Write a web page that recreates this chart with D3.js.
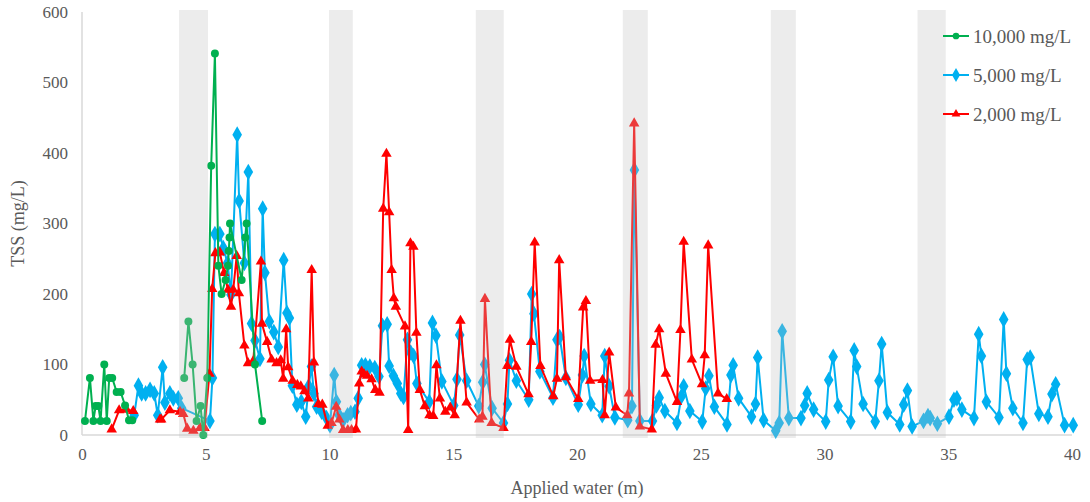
<!DOCTYPE html>
<html>
<head>
<meta charset="utf-8">
<script src="https://cdn.jsdelivr.net/npm/d3@7"></script>
<style>
  html, body { margin: 0; padding: 0; background: #fff; }
  svg { display: block; }
</style>
</head>
<body>
<svg id="chart" width="1090" height="502"></svg>
<script>
// ---- Data ----
const xTicks = [0, 5, 10, 15, 20, 25, 30, 35, 40];
const yTicks = [0, 100, 200, 300, 400, 500, 600];
const seriesNames = ["10,000 mg/L", "5,000 mg/L", "2,000 mg/L"];

// shaded intervals (applied water, m)
const bandStart = [3.92, 9.98, 15.91, 21.85, 27.83, 33.76];
const bandEnd   = [5.09, 10.94, 17.04, 22.86, 28.84, 34.9];

// 10,000 mg/L (null = break in line)
const greenX = [0.12,0.32,0.46,0.55,0.66,0.75,0.9,1.0,1.1,1.22,1.4,1.56,1.74,1.9,2.03,
  null,
  4.13,4.3,4.47,4.63,4.79,4.9,5.06,5.22,5.37,5.51,5.64,5.8,5.9,5.93,5.96,5.98,6.45,6.6,6.65,6.99,7.28];
const greenY = [20,81,20,41,41,20,100,20,81,81,61,61,42,21,21,
  null,
  81,161,100,20,41,0,81,382,541,240,200,220,240,261,280,300,220,280,300,100,20];

// 5,000 mg/L
const blueX = [2.11,2.28,2.41,2.57,2.75,2.92,3.06,3.26,3.35,3.55,3.69,3.89,4.03,
  5.17,5.27,5.37,5.57,5.71,5.88,6.02,6.27,6.35,6.56,6.72,6.85,6.99,7.19,7.3,7.39,7.57,7.75,7.93,
  8.15,8.28,8.38,8.5,8.68,8.86,9.04,9.16,9.27,9.37,9.48,9.68,9.88,10.02,10.19,10.28,10.39,10.55,
  10.73,10.86,11.03,11.16,11.3,11.45,11.63,11.83,12.0,12.14,12.33,12.41,12.58,12.74,12.88,12.99,
  13.15,13.28,13.4,13.53,14.03,14.16,14.3,14.54,15.02,15.15,15.26,15.54,16.03,16.19,16.27,16.57,
  17.03,17.19,17.27,17.55,18.05,18.17,18.26,18.5,19.03,19.19,19.3,19.55,20.05,20.22,20.29,20.56,
  21.02,21.12,21.3,21.53,22.05,22.22,22.32,22.54,23.05,23.21,23.32,23.55,24.04,24.22,24.31,24.56,
  25.06,25.2,25.33,25.55,26.06,26.22,26.31,26.53,27.05,27.21,27.3,27.54,28.03,28.17,28.29,28.56,
  29.05,29.2,29.3,29.56,30.05,30.17,30.35,30.55,31.06,31.2,31.3,31.56,32.05,32.2,32.31,32.54,
  33.04,33.2,33.35,33.54,34.0,34.18,34.27,34.56,35.03,35.23,35.35,35.55,36.04,36.23,36.34,36.54,
  37.05,37.24,37.35,37.61,38.02,38.19,38.31,38.66,39.03,39.19,39.34,39.7,40.05];
const blueY = [28,70,59,59,64,59,28,96,46,59,52,52,38,
  20,81,285,285,265,244,199,426,332,244,373,158,134,108,321,230,161,146,125,
  248,173,166,70,43,47,26,69,97,59,40,33,24,14,85,47,28,21,
  28,31,33,52,99,99,97,95,83,155,157,98,84,73,59,54,
  135,117,112,73,47,159,141,76,42,79,142,77,41,75,100,38,
  17,44,106,77,50,200,172,90,53,135,139,81,43,85,112,44,
  28,112,69,25,21,41,376,20,20,42,53,34,17,55,69,34,
  19,66,84,40,15,85,99,52,26,44,110,21,6,17,147,24,
  24,42,59,36,19,78,111,41,19,120,97,44,19,77,129,32,
  15,43,63,12,20,27,24,16,26,50,52,36,24,143,112,47,
  25,164,87,38,17,107,110,30,26,58,72,14,14];

// 2,000 mg/L
const redX = [1.2,1.5,1.8,2.07,
  null,
  3.15,3.2,3.55,3.96,4.09,4.25,4.5,4.77,4.95,5.15,5.26,5.39,5.57,5.74,5.9,6.02,6.11,6.25,6.34,
  6.56,6.71,6.92,7.23,7.27,7.48,7.66,7.86,8.03,8.13,8.25,8.33,8.51,8.7,8.84,8.99,9.14,9.28,9.37,
  9.55,9.71,9.93,10.08,10.27,10.4,10.55,10.74,10.89,11.07,11.2,11.3,11.4,11.52,11.7,11.85,12.02,
  12.17,12.3,12.41,12.51,12.6,12.68,13.05,13.18,13.27,13.39,13.51,13.65,13.85,14.04,14.19,14.32,
  14.46,14.68,14.88,15.06,15.29,15.54,16.05,16.18,16.28,16.55,17.03,17.18,17.29,17.55,18.04,18.15,
  18.29,18.52,19.04,19.19,19.28,19.55,20.05,20.25,20.36,20.53,21.03,21.12,21.3,21.57,22.03,22.1,
  22.31,22.54,23.02,23.18,23.32,23.59,24.04,24.18,24.31,24.64,25.05,25.16,25.3,25.7,26.05];
const redY = [8,35,36,34,
  null,
  22,22,35,33,30,9,6,10,10,87,207,258,259,230,206,182,206,254,201,
  127,102,105,246,158,132,107,102,106,80,150,96,77,71,69,62,52,234,103,
  44,43,13,17,40,22,7,7,7,8,73,90,86,84,79,64,60,
  321,399,316,234,194,182,154,7,272,267,145,64,41,28,27,99,
  52,33,39,28,162,46,22,26,193,17,10,98,135,97,58,132,
  273,98,55,80,248,82,51,181,190,77,78,28,117,39,28,59,
  442,12,8,128,150,87,47,149,274,107,72,113,269,59,51];

// ---- Chart ----
const svg = d3.select("#chart");
const pL = 82, pR = 1072, pT = 12, pB = 435;
const x = d3.scaleLinear().domain([0, 40]).range([pL, pR]);
const y = d3.scaleLinear().domain([0, 600]).range([pB, pT]);

const fontFam = "'Liberation Serif', 'Times New Roman', serif";
const textCol = "#595959";

// axis lines
svg.append("line").attr("x1", pL).attr("x2", pL).attr("y1", pT).attr("y2", pB)
  .attr("stroke", "#d9d9d9").attr("stroke-width", 1.5);
svg.append("line").attr("x1", pL).attr("x2", pR).attr("y1", pB).attr("y2", pB)
  .attr("stroke", "#d9d9d9").attr("stroke-width", 1.5);

// ticks via d3 axes
const yAxis = d3.axisLeft(y).tickValues(yTicks).tickSize(0).tickPadding(14);
const gy = svg.append("g").attr("transform", `translate(${pL},0)`).call(yAxis);
gy.select(".domain").remove();
gy.selectAll("text").attr("font-family", fontFam).attr("font-size", 17).attr("fill", textCol);

const xAxis = d3.axisBottom(x).tickValues(xTicks).tickSize(0).tickPadding(13);
const gx = svg.append("g").attr("transform", `translate(0,${pB})`).call(xAxis);
gx.select(".domain").remove();
gx.selectAll("text").attr("font-family", fontFam).attr("font-size", 17).attr("fill", textCol);

// axis titles
svg.append("text").attr("x", (pL + pR) / 2).attr("y", 494)
  .attr("text-anchor", "middle").attr("font-family", fontFam).attr("font-size", 18)
  .attr("fill", textCol).text("Applied water (m)");
svg.append("text").attr("transform", `translate(24,${(pT + pB) / 2}) rotate(-90)`)
  .attr("text-anchor", "middle").attr("font-family", fontFam).attr("font-size", 18)
  .attr("fill", textCol).text("TSS (mg/L)");

// series
function makeData(xs, ys) {
  return xs.map((v, i) => ({ x: v, y: ys[i] }));
}
const series = [
  { name: seriesNames[0], data: makeData(greenX, greenY), color: "#00b050", shape: d3.symbolCircle, size: 50 },
  { name: seriesNames[1], data: makeData(blueX, blueY), color: "#00b0f0", shape: d3.symbolDiamond, size: 80 },
  { name: seriesNames[2], data: makeData(redX, redY), color: "#ff0000", shape: d3.symbolTriangle, size: 48 }
];
const line = d3.line().defined(d => d.x !== null && d.y !== null)
  .x(d => x(d.x)).y(d => y(d.y));

const drawOrder = [1, 2, 0];
drawOrder.forEach(i => {
  const s = series[i];
  const g = svg.append("g");
  g.append("path").datum(s.data).attr("d", line)
    .attr("fill", "none").attr("stroke", s.color).attr("stroke-width", 2)
    .attr("stroke-linejoin", "round");
  g.selectAll("path.m").data(s.data.filter(d => d.x !== null)).enter().append("path")
    .attr("class", "m")
    .attr("d", d3.symbol().type(s.shape).size(s.size))
    .attr("transform", d => `translate(${x(d.x)},${y(d.y)})`)
    .attr("fill", s.color);
});

// shaded bands drawn over the data (semi-transparent)
svg.append("g").selectAll("rect").data(bandStart.map((s, i) => [s, bandEnd[i]])).enter()
  .append("rect")
  .attr("x", d => x(d[0])).attr("width", d => x(d[1]) - x(d[0]))
  .attr("y", 10).attr("height", 428)
  .attr("fill", "#bfbfbf").attr("opacity", 0.3);

// legend
const legY = [36, 75, 114];
const lg = svg.append("g");
series.forEach((s, i) => {
  const g = lg.append("g").attr("transform", `translate(0,${legY[i]})`);
  g.append("line").attr("x1", 943).attr("x2", 969).attr("y1", 0).attr("y2", 0)
    .attr("stroke", s.color).attr("stroke-width", 2);
  g.append("path").attr("d", d3.symbol().type(s.shape).size(s.size * 0.7))
    .attr("transform", `translate(956,0)`).attr("fill", s.color);
  g.append("text").attr("x", 973).attr("y", 0).attr("dy", "0.35em")
    .attr("font-family", fontFam).attr("font-size", 19).attr("fill", textCol).text(s.name);
});
</script>
</body>
</html>
